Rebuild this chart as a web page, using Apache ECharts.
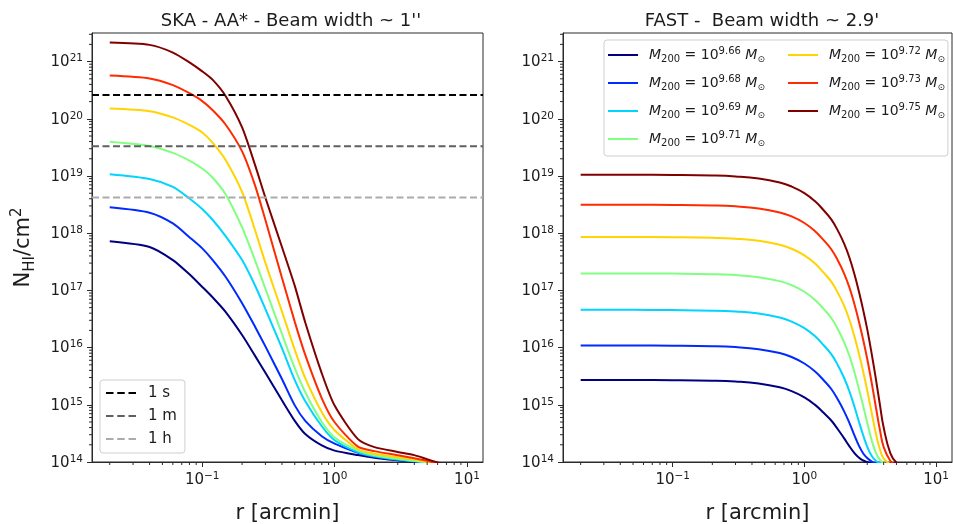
<!DOCTYPE html>
<html><head><meta charset="utf-8">
<script src="https://cdn.jsdelivr.net/npm/echarts@6/dist/echarts.min.js"></script>
<style>html,body{margin:0;padding:0;background:#fff}#c{width:953px;height:524px}</style>
</head><body><div id="c"></div>
<script>
// ---------------- data ----------------
const massExp = ['9.66', '9.68', '9.69', '9.71', '9.72', '9.73', '9.75'];
const lineColors = ['#000080', '#002aff', '#00d4ff', '#80ff80', '#ffd400', '#ff2a00', '#800000'];

// SKA panel: radius [arcmin]
const rSKA = [0.02, 0.04, 0.06, 0.08, 0.1, 0.12, 0.15, 0.2, 0.25, 0.3, 0.4, 0.5, 0.6, 0.8, 1.0, 1.5, 2, 3, 4, 5, 6, 8, 10];
const skaM966 = [7.24e17, 5.75e17, 3.39e17, 1.91e17, 1.15e17, 7.52e16, 4.22e16, 1.66e16, 7.24e15, 3.63e15, 1.2e15, 5.25e14, 3.09e14, 1.95e14, 1.58e14, 1.32e14, 1.19e14, 1.07e14, 1.0e14, 9.3e13, 8.1e13, 6.5e13, 5.1e13];
const skaM968 = [2.83e18, 2.28e18, 1.48e18, 8.51e17, 5.43e17, 3.39e17, 1.73e17, 5.96e16, 2.34e16, 1.05e16, 2.82e15, 9.77e14, 5.25e14, 2.82e14, 2.09e14, 1.45e14, 1.23e14, 1.08e14, 1.02e14, 9.5e13, 8.3e13, 6.6e13, 5.2e13];
const skaM969 = [1.07e19, 8.85e18, 6.43e18, 4.04e18, 2.65e18, 1.7e18, 8.91e17, 3.39e17, 1.23e17, 4.7e16, 9.77e15, 2.69e15, 1.15e15, 4.22e14, 2.4e14, 1.48e14, 1.26e14, 1.1e14, 1.03e14, 9.7e13, 8.5e13, 6.8e13, 5.4e13];
const skaM971 = [3.98e19, 3.35e19, 2.54e19, 1.86e19, 1.35e19, 9.33e18, 4.79e18, 1.26e18, 3.39e17, 1.07e17, 1.74e16, 4.37e15, 1.66e15, 5.01e14, 2.69e14, 1.6e14, 1.31e14, 1.14e14, 1.05e14, 9.9e13, 8.7e13, 6.9e13, 5.5e13];
const skaM972 = [1.51e20, 1.36e20, 1.06e20, 7.82e19, 5.77e19, 3.8e19, 1.91e19, 5.25e18, 1.15e18, 3.02e17, 4.27e16, 9.12e15, 2.92e15, 7.41e14, 3.59e14, 1.67e14, 1.39e14, 1.21e14, 1.1e14, 1.0e14, 8.9e13, 7.1e13, 5.6e13];
const skaM973 = [5.69e20, 5.07e20, 3.88e20, 2.8e20, 2.04e20, 1.41e20, 7.94e19, 2.69e19, 6.92e18, 1.7e18, 1.66e17, 2.82e16, 7.46e15, 1.3e15, 4.95e14, 1.86e14, 1.55e14, 1.31e14, 1.16e14, 1.05e14, 9.3e13, 7.4e13, 5.9e13];
const skaM975 = [2.15e21, 1.96e21, 1.44e21, 9.7e20, 6.75e20, 4.79e20, 2.51e20, 7.08e19, 1.58e19, 4.17e18, 5.75e17, 1.2e17, 2.75e16, 3.55e15, 9.7e14, 2.51e14, 1.82e14, 1.5e14, 1.32e14, 1.12e14, 9.8e13, 7.9e13, 6.3e13];

// sensitivity thresholds (SKA panel)
const thresholdNames = ['1 s', '1 m', '1 h'];
const thresholdValues = [2.6e20, 3.3e19, 4.2e18];
const thresholdColors = ['#000000', '#606060', '#ababab'];

// FAST panel
const rFAST = [0.02, 0.05, 0.1, 0.2, 0.3, 0.45, 0.65, 0.8, 1.0, 1.2, 1.4, 1.6, 1.8, 2.0, 2.2, 2.4, 2.6, 2.8, 3.0, 3.25, 3.5, 3.75, 4.0, 4.5, 5, 6, 8, 10];
const fastM966 = [2.72e15, 2.72e15, 2.7e15, 2.64e15, 2.55e15, 2.355e15, 2.02e15, 1.733e15, 1.352e15, 1.006e15, 7.25e14, 5.31e14, 3.7e14, 2.61e14, 1.88e14, 1.43e14, 1.184e14, 1.062e14, 1.0e14, 9.59e13, 9.3e13, 9.2e13, 9.0e13, 8.8e13, 8.5e13, 8.0e13, 7.0e13, 6.0e13];
const fastM968 = [1.09e16, 1.09e16, 1.082e16, 1.059e16, 1.021e16, 9.4e15, 8.02e15, 6.84e15, 5.27e15, 3.85e15, 2.69e15, 1.89e15, 1.227e15, 7.77e14, 4.79e14, 2.92e14, 1.91e14, 1.41e14, 1.17e14, 1.02e14, 9.57e13, 9.29e13, 9.03e13, 8.8e13, 8.5e13, 8.0e13, 7.0e13, 6.0e13];
const fastM969 = [4.57e16, 4.57e16, 4.53e16, 4.43e16, 4.27e16, 3.94e16, 3.35e16, 2.85e16, 2.19e16, 1.59e16, 1.1e16, 7.67e15, 4.87e15, 2.97e15, 1.71e15, 9.25e14, 5.0e14, 2.9e14, 1.86e14, 1.27e14, 1.04e14, 9.6e13, 9.1e13, 8.8e13, 8.5e13, 8.0e13, 7.0e13, 6.0e13];
const fastM971 = [1.98e17, 1.98e17, 1.965e17, 1.922e17, 1.852e17, 1.705e17, 1.451e17, 1.236e17, 9.48e16, 6.87e16, 4.75e16, 3.29e16, 2.07e16, 1.25e16, 7.12e15, 3.7e15, 1.86e15, 9.4e14, 4.9e14, 2.37e14, 1.43e14, 1.09e14, 9.6e13, 8.9e13, 8.5e13, 8.0e13, 7.0e13, 6.0e13];
const fastM972 = [8.55e17, 8.55e17, 8.49e17, 8.3e17, 8.0e17, 7.36e17, 6.27e17, 5.34e17, 4.1e17, 2.97e17, 2.05e17, 1.42e17, 8.95e16, 5.4e16, 3.04e16, 1.56e16, 7.7e15, 3.75e15, 1.8e15, 7.1e14, 3.08e14, 1.65e14, 1.15e14, 9.2e13, 8.6e13, 8.0e13, 7.0e13, 6.0e13];
const fastM973 = [3.15e18, 3.15e18, 3.127e18, 3.057e18, 2.947e18, 2.712e18, 2.309e18, 1.966e18, 1.509e18, 1.093e18, 7.56e17, 5.23e17, 3.3e17, 1.99e17, 1.118e17, 5.73e16, 2.81e16, 1.345e16, 6.4e15, 2.37e15, 8.8e14, 3.6e14, 1.83e14, 1.04e14, 8.9e13, 8.0e13, 7.0e13, 6.0e13];
const fastM975 = [1.05e19, 1.05e19, 1.042e19, 1.019e19, 9.82e18, 9.04e18, 7.7e18, 6.55e18, 5.03e18, 3.64e18, 2.52e18, 1.743e18, 1.099e18, 6.63e17, 3.73e17, 1.91e17, 9.36e16, 4.48e16, 2.1e16, 7.6e15, 2.73e15, 9.85e14, 4.0e14, 1.41e14, 9.8e13, 8.1e13, 7.0e13, 6.0e13];

// tick label exponents
const xTickExp = [-1, 0, 1];
const yTickExp = [14, 15, 16, 17, 18, 19, 20, 21];

const titles = ["SKA - AA* - Beam width ~ 1''", "FAST -  Beam width ~ 2.9'"];

// ---------------- chart ----------------
const X_MIN = -1.833, X_MAX = 1.121, Y_MIN = 14, Y_MAX = 21.5;
const FONT = 'DejaVu Sans';
const TXT = '#1c1c1c';
const AX = '#2a2a2a';
const L = Math.log10;

const skaSets = [skaM966, skaM968, skaM969, skaM971, skaM972, skaM973, skaM975];
const fastSets = [fastM966, fastM968, fastM969, fastM971, fastM972, fastM973, fastM975];
const massNames = massExp.map(e => 'M200 = 10^' + e + ' Msun');

function powLabel(v) {
  if (Math.abs(v - Math.round(v)) > 1e-6) return '';
  const n = Math.round(v);
  return '{b|10}{sup|' + (n < 0 ? '\u2212' + (-n) : n) + '}';
}
const tickRich = {
  b: { fontSize: 15, lineHeight: 14, padding: [6, 0, 0, 0], verticalAlign: 'bottom', fontFamily: FONT, color: TXT },
  sup: { fontSize: 10.5, lineHeight: 17, verticalAlign: 'top', fontFamily: FONT, color: TXT }
};

const grids = [
  { left: 92, top: 33, width: 391, height: 429 },
  { left: 563, top: 33, width: 389, height: 429 }
].map(g => Object.assign({ show: true, borderColor: AX, borderWidth: 1, backgroundColor: 'transparent', containLabel: false, outerBoundsMode: 'none' }, g));

const xAxes = [0, 1].map(i => ({
  type: 'value', gridIndex: i, min: X_MIN, max: X_MAX, minInterval: 1, maxInterval: 1,
  axisLine: { show: true, onZero: false, lineStyle: { color: AX, width: 1 } },
  axisTick: { show: true, inside: false, length: 5, lineStyle: { color: AX, width: 1 }, customValues: xTickExp },
  axisLabel: { show: true, margin: 9, customValues: xTickExp, formatter: powLabel, rich: tickRich, hideOverlap: false },
  splitLine: { show: false },
  name: 'r [arcmin]', nameLocation: 'middle', nameGap: 41,
  nameTextStyle: { fontSize: 21, fontFamily: FONT, color: TXT }
}));

const yAxes = [0, 1].map(i => ({
  type: 'value', gridIndex: i, min: Y_MIN, max: Y_MAX, minInterval: 1, maxInterval: 1,
  axisLine: { show: true, onZero: false, lineStyle: { color: AX, width: 1 } },
  axisTick: { show: true, inside: false, length: 5, lineStyle: { color: AX, width: 1 }, customValues: yTickExp },
  axisLabel: { show: true, margin: 9, customValues: yTickExp, formatter: powLabel, rich: tickRich, hideOverlap: false },
  splitLine: { show: false },
  name: i === 0 ? '{b|N}{sub|HI}{b|/cm}{sup|2}' : '',
  nameLocation: 'middle', nameGap: 54, nameRotate: 90,
  nameTextStyle: {
    fontSize: 21, fontFamily: FONT, color: TXT,
    rich: {
      b: { fontSize: 21, lineHeight: 28, fontFamily: FONT, color: TXT },
      sub: { fontSize: 15, lineHeight: 12, verticalAlign: 'bottom', fontFamily: FONT, color: TXT },
      sup: { fontSize: 15, lineHeight: 12, verticalAlign: 'top', fontFamily: FONT, color: TXT }
    }
  }
}));

function minorTicks(gi) {
  const data = [];
  for (let n = -2; n <= 1; n++) for (let k = 2; k <= 9; k++) {
    const v = n + L(k);
    if (v > X_MIN && v < X_MAX) data.push([v, Y_MIN, 0]);
  }
  for (let n = 14; n <= 21; n++) for (let k = 2; k <= 9; k++) {
    const v = n + L(k);
    if (v > Y_MIN && v < Y_MAX) data.push([X_MIN, v, 1]);
  }
  return {
    type: 'custom', xAxisIndex: gi, yAxisIndex: gi, silent: true, clip: false, z: 6,
    data: data,
    renderItem: function (params, api) {
      const p = api.coord([api.value(0), api.value(1)]);
      const horiz = api.value(2) === 1;
      return {
        type: 'line',
        shape: horiz ? { x1: p[0], y1: p[1], x2: p[0] - 3, y2: p[1] } : { x1: p[0], y1: p[1], x2: p[0], y2: p[1] + 3 },
        style: { stroke: AX, lineWidth: 1 }
      };
    }
  };
}

const series = [];
skaSets.forEach((arr, j) => series.push({
  type: 'line', name: massNames[j], xAxisIndex: 0, yAxisIndex: 0,
  data: rSKA.map((r, k) => [L(r), L(arr[k])]),
  symbol: 'none', smooth: 0.25, clip: true, z: 2,
  lineStyle: { color: lineColors[j], width: 2 }, itemStyle: { color: lineColors[j] }
}));
fastSets.forEach((arr, j) => series.push({
  type: 'line', name: massNames[j], xAxisIndex: 1, yAxisIndex: 1,
  data: rFAST.map((r, k) => [L(r), L(arr[k])]),
  symbol: 'none', smooth: 0.45, clip: true, z: 2,
  lineStyle: { color: lineColors[j], width: 2 }, itemStyle: { color: lineColors[j] }
}));
thresholdValues.forEach((v, j) => series.push({
  type: 'line', name: thresholdNames[j], xAxisIndex: 0, yAxisIndex: 0,
  data: [[X_MIN, L(v)], [X_MAX, L(v)]],
  symbol: 'none', z: 3,
  lineStyle: { color: thresholdColors[j], width: 2, type: [7, 3.5] }, itemStyle: { color: thresholdColors[j] }
}));
series.push(minorTicks(0), minorTicks(1));

function massLabel(name) {
  const e = massExp[massNames.indexOf(name)];
  return '{mi|M}{sub|200}{t| = 10}{sup|' + e + '}{t| }{mi|M}{sym|\u2299}';
}
const massRich = {
  t: { fontSize: 14, lineHeight: 18, fontFamily: FONT, color: TXT },
  mi: { fontSize: 14, lineHeight: 18, fontStyle: 'italic', fontFamily: FONT, color: TXT },
  sub: { fontSize: 10, lineHeight: 10, verticalAlign: 'bottom', fontFamily: FONT, color: TXT },
  sup: { fontSize: 10, lineHeight: 12, verticalAlign: 'top', fontFamily: FONT, color: TXT },
  sym: { fontSize: 9, lineHeight: 10, verticalAlign: 'bottom', fontFamily: FONT, color: TXT }
};
const legendCommon = {
  orient: 'vertical', itemWidth: 30, itemHeight: 14, itemGap: 10, selectedMode: false,
  formatter: massLabel, icon: 'path://M0,6L30,6L30,8L0,8Z'
};

const option = {
  animation: false,
  backgroundColor: '#ffffff',
  title: [
    { text: titles[0], left: 286, top: 7, textAlign: 'center', textStyle: { fontSize: 18, fontWeight: 'normal', fontFamily: FONT, color: TXT } },
    { text: titles[1], left: 757, top: 7, textAlign: 'center', textStyle: { fontSize: 18, fontWeight: 'normal', fontFamily: FONT, color: TXT } }
  ],
  grid: grids,
  xAxis: xAxes,
  yAxis: yAxes,
  legend: [
    {
      data: thresholdNames, left: 100, top: 380, orient: 'vertical', selectedMode: false,
      itemWidth: 30, itemHeight: 10, itemGap: 7, padding: [5, 8, 6, 6],
      icon: 'path://M0,4L7,4L7,6L0,6Z M10.5,4L17.5,4L17.5,6L10.5,6Z M21,4L28,4L28,6L21,6Z',
      backgroundColor: 'rgba(255,255,255,0.85)', borderColor: '#cfcfcf', borderWidth: 1, borderRadius: 3,
      textStyle: { fontSize: 15, lineHeight: 16, fontFamily: FONT, color: TXT, padding: [0, 0, 0, 7] }
    },
    Object.assign({}, legendCommon, {
      data: massNames.slice(0, 4), left: 604, top: 40, padding: [6, 183, 8, 4],
      backgroundColor: 'rgba(255,255,255,0.85)', borderColor: '#cfcfcf', borderWidth: 1, borderRadius: 3,
      textStyle: { width: 131, padding: [0, 0, 0, 6], fontFamily: FONT, color: TXT, rich: massRich }
    }),
    Object.assign({}, legendCommon, {
      data: massNames.slice(4), left: 784, top: 40, padding: [6, 0, 8, 4], z: 10,
      textStyle: { padding: [0, 0, 0, 6], fontFamily: FONT, color: TXT, rich: massRich }
    })
  ],
  series: series
};

const chart = echarts.init(document.getElementById('c'), null, { renderer: 'canvas' });
chart.setOption(option);
</script>
</body></html>
